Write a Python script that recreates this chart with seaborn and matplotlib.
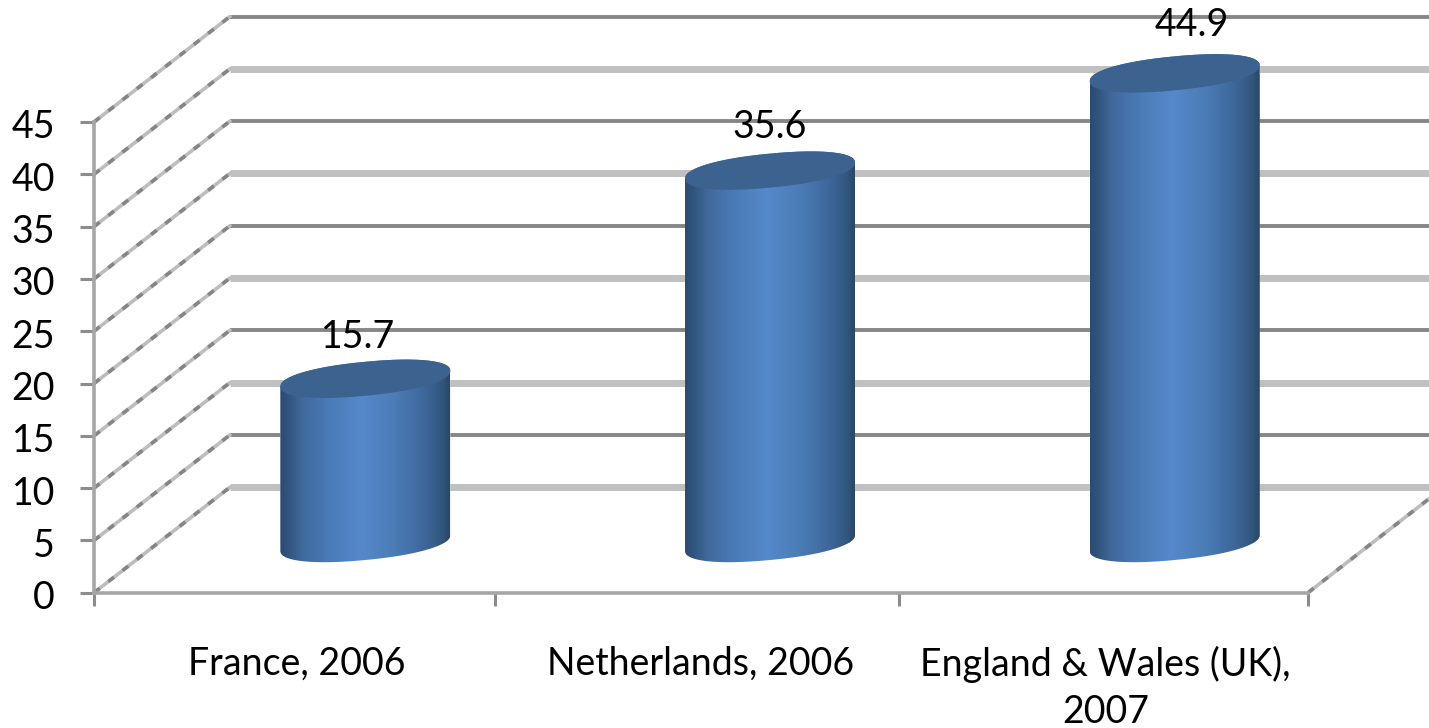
import numpy as np
import pandas as pd
import matplotlib.pyplot as plt
import seaborn as sns
from matplotlib.colors import LinearSegmentedColormap
from matplotlib.patches import PathPatch
from matplotlib.path import Path
from matplotlib.transforms import ScaledTranslation

# data
countries = ['France, 2006', 'Netherlands, 2006', 'England & Wales (UK),\n2007']
values = [15.7, 35.6, 44.9]
y_ticks = [0, 5, 10, 15, 20, 25, 30, 35, 40, 45]

df = pd.DataFrame({'country': countries, 'value': values})

W, H = 1429, 728
sns.set_theme(style="white")
plt.rcParams['font.family'] = ['Lato', 'DejaVu Sans']

fig = plt.figure(figsize=(W / 100, H / 100), dpi=100)

# front plane of the fake 3D box, pixel numbers from the reference
ax = fig.add_axes([94 / W, (H - 592.7) / H, 1214 / W, 470.7 / H])
ax.set_xlim(-0.5, 2.5)
ax.set_ylim(0, 45)
ax.patch.set_alpha(0)

# depth of the box in data units
dx = 136 / (1214 / 3)
dy = 105.5 / (470.7 / 45)
x_end = 2.5 + 121 / (1214 / 3)


def slanted(xs, ys):
    # light line with darker dashes on top, looks like the jagged lines in the original
    ax.plot(xs, ys, clip_on=False, color='#bdbdbd', lw=2.6, zorder=1)
    ax.plot(xs, ys, clip_on=False, color='#858585', lw=2.6, ls=(0, (2, 3)), zorder=1)


# back wall gridlines, thick light and thin dark in turn
for i, v in enumerate(y_ticks):
    light = i % 2 == 0
    ax.plot([-0.5 + dx, x_end], [v + dy, v + dy], clip_on=False, solid_capstyle='butt',
            color='#c0c0c0' if light else '#868686', lw=5.0 if light else 2.8, zorder=1)
    slanted([-0.5, -0.5 + dx], [v, v + dy])

# slanted floor line on the right
slanted([2.5, x_end], [0, dy * 121 / 136])

for s in ['top', 'right']:
    ax.spines[s].set_visible(False)
for s in ['left', 'bottom']:
    ax.spines[s].set_color('#a6a6a6')
    ax.spines[s].set_linewidth(2.6)

ax.set_yticks(y_ticks)
ax.set_yticklabels([str(t) for t in y_ticks])
ax.tick_params(axis='y', left=True, length=10, width=2.2, color='#8c8c8c', pad=18,
               labelsize=27, labelcolor='black')
down = ScaledTranslation(0, -2 / 100, fig.dpi_scale_trans)
for lab in ax.get_yticklabels():
    lab.set_transform(lab.get_transform() + down)

ax.set_xticks([-0.5, 0.49, 1.49, 2.5])
ax.set_xticklabels([])
ax.set_xticks([0, 1, 2], labels=countries, minor=True)
ax.tick_params(axis='x', which='major', bottom=True, length=9, width=2.2, color='#8c8c8c')
ax.tick_params(axis='x', which='minor', bottom=False, length=0, pad=38, labelsize=27,
               labelcolor='black')
for lab in ax.get_xticklabels(minor=True):
    lab.set_linespacing(1.4)

# cylinders sit on a plane half way into the box
ax2 = fig.add_axes([163 / W, (H - 543) / H, 1214 / W, 470.7 / H])
sns.barplot(data=df, x='country', y='value', color='#4f81bd', width=0.42, saturation=1, ax=ax2)
ax2.axis('off')
ax2.patch.set_alpha(0)

cyl_cmap = LinearSegmentedColormap.from_list('cyl', [
    (0.0, '#2b4a70'), (0.05, '#32557f'), (0.13, '#41699c'), (0.3, '#4b7cb8'),
    (0.48, '#5689cb'), (0.68, '#4b7cb6'), (0.85, '#3e679a'), (0.95, '#33587f'),
    (1.0, '#2a4766')])
grad = np.linspace(0, 1, 256).reshape(1, -1)

# ellipse half height and tilt, in y data units
ell_b = 17 / (470.7 / 45)
ell_s = 8 / (470.7 / 45)
t = np.linspace(0, 2 * np.pi, 181)


def blunt(angle):
    # slightly squarer than a true ellipse, the ends in the original are not pointy
    p = 2.2
    c, s = np.cos(angle), np.sin(angle)
    return np.sign(c) * np.abs(c) ** (2 / p), np.sign(s) * np.abs(s) ** (2 / p)


label_nudge = [(-7, 42), (0, 44), (17, 48)]
for bar, val, nudge in zip(ax2.patches, values, label_nudge):
    x0, w = bar.get_x(), bar.get_width()
    xc, a = x0 + w / 2, w / 2
    top = bar.get_height()

    # side wall outline: down the left, round the front of the base, up the right
    cb, sb = blunt(np.linspace(np.pi, 2 * np.pi, 60))
    lower = np.column_stack([xc + a * cb, ell_s * cb + ell_b * sb])
    ct, st = blunt(np.linspace(0, np.pi, 60))
    upper = np.column_stack([xc + a * ct, top + ell_s * ct + ell_b * st])
    body = Path(np.vstack([lower, upper, lower[:1]]))
    clip = PathPatch(body, transform=ax2.transData, fc='none', ec='none')
    ax2.add_patch(clip)
    bar.set_clip_path(clip)
    bar.set_clip_box(fig.bbox)

    im = ax2.imshow(grad, extent=[x0, x0 + w, -3, top + 3], aspect='auto', cmap=cyl_cmap,
                    zorder=3)
    im.set_clip_path(clip)
    im.set_clip_box(fig.bbox)

    # top face
    ce, se = blunt(t)
    ax2.fill(xc + a * ce, top + ell_s * ce + ell_b * se, color='#3c628f', lw=0, zorder=4,
             clip_on=False)

    ax2.annotate(f'{val}', (xc, top), xytext=(nudge[0] * 0.72, nudge[1] * 0.72),
                 textcoords='offset points', ha='center', va='center', fontsize=27,
                 color='black', zorder=5, annotation_clip=False)

ax2.set_xlim(-0.5, 2.5)
ax2.set_ylim(0, 45)

fig.savefig('out.png', dpi=100)
plt.close(fig)
